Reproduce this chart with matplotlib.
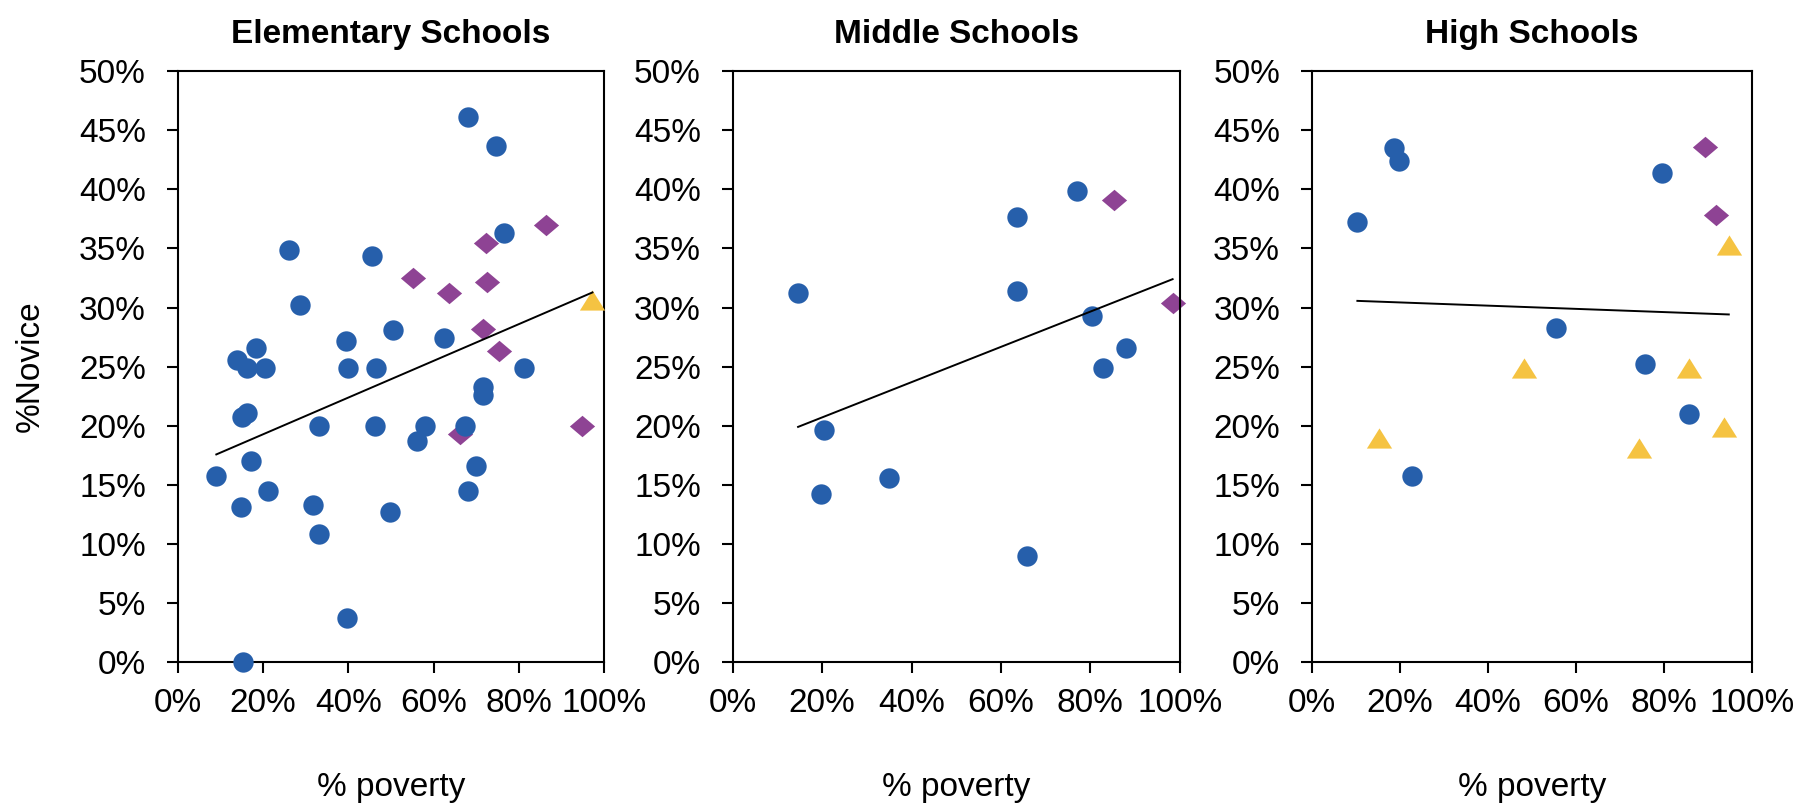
#!/usr/bin/env python
import matplotlib
matplotlib.use('Agg')
import matplotlib.pyplot as plt
import numpy as np
from matplotlib.path import Path
from matplotlib.ticker import PercentFormatter, MultipleLocator

plt.rcParams['font.family'] = ['Liberation Sans Narrow', 'Liberation Sans', 'DejaVu Sans']

# values in percent
elem_circ_x = [68.1, 74.6, 76.5, 26.0, 45.5, 28.7, 50.4, 39.4, 62.5, 18.4, 13.8, 16.3,
               20.5, 39.9, 46.4, 81.2, 71.5, 71.7, 16.3, 15.0, 33.1, 46.3, 58.1, 67.3,
               56.2, 17.2, 9.0, 69.9, 21.1, 14.8, 31.6, 68.2, 33.0, 49.8, 39.7, 15.3]
elem_circ_y = [46.1, 43.7, 36.3, 34.9, 34.4, 30.2, 28.1, 27.2, 27.4, 26.6, 25.6, 24.9,
               24.9, 24.9, 24.9, 24.9, 23.3, 22.6, 21.1, 20.7, 20.0, 20.0, 20.0, 20.0,
               18.7, 17.0, 15.7, 16.6, 14.5, 13.1, 13.3, 14.5, 10.8, 12.7, 3.7, 0.0]
elem_diam_x = [55.1, 63.6, 72.4, 72.5, 86.4, 71.7, 75.3, 66.1, 94.8]
elem_diam_y = [32.5, 31.2, 35.5, 32.2, 37.0, 28.2, 26.3, 19.3, 20.0]
elem_tri_x = [97.3]
elem_tri_y = [30.6]

mid_circ_x = [14.6, 20.5, 19.8, 34.9, 63.5, 63.5, 65.8, 77.0, 80.4, 87.9, 82.9]
mid_circ_y = [31.2, 19.6, 14.2, 15.6, 37.7, 31.4, 9.0, 39.9, 29.3, 26.6, 24.9]
mid_diam_x = [85.3, 98.4]
mid_diam_y = [39.1, 30.4]
mid_tri_x = []
mid_tri_y = []

high_circ_x = [10.3, 18.7, 19.7, 79.5, 55.5, 75.7, 85.6, 22.7]
high_circ_y = [37.2, 43.5, 42.4, 41.4, 28.3, 25.2, 21.0, 15.7]
high_diam_x = [89.3, 91.9]
high_diam_y = [43.6, 37.8]
high_tri_x = [94.7, 48.1, 85.6, 15.2, 74.4, 93.6]
high_tri_y = [35.3, 24.9, 24.9, 19.0, 18.1, 19.9]

titles = ['Elementary Schools', 'Middle Schools', 'High Schools']

panels = [
    (elem_circ_x, elem_circ_y, elem_diam_x, elem_diam_y, elem_tri_x, elem_tri_y),
    (mid_circ_x, mid_circ_y, mid_diam_x, mid_diam_y, mid_tri_x, mid_tri_y),
    (high_circ_x, high_circ_y, high_diam_x, high_diam_y, high_tri_x, high_tri_y),
]

blue = '#265FAB'
purple = '#8E4394'
yellow = '#F5C342'

diamond = Path([(-1, 0), (0, 0.85), (1, 0), (0, -0.85), (-1, 0)],
               [Path.MOVETO, Path.LINETO, Path.LINETO, Path.LINETO, Path.CLOSEPOLY])
triangle = Path([(0, 0.8), (-1, -0.8), (1, -0.8), (0, 0.8)],
                [Path.MOVETO, Path.LINETO, Path.LINETO, Path.CLOSEPOLY])

fig = plt.figure(figsize=[18.05, 8.07], dpi=100)

lefts = [0.0986, 0.406, 0.7269]
widths = [0.236, 0.2476, 0.2438]
bottom = 0.1797
height = 0.732
fs = 24

for i, (cx, cy, dx, dy, tx, ty) in enumerate(panels):
    ax = fig.add_axes([lefts[i], bottom, widths[i], height])
    ax.set_xlim(0, 100)
    ax.set_ylim(0, 50)
    ax.xaxis.set_major_locator(MultipleLocator(20))
    ax.yaxis.set_major_locator(MultipleLocator(5))
    ax.xaxis.set_major_formatter(PercentFormatter(decimals=0))
    ax.yaxis.set_major_formatter(PercentFormatter(decimals=0))
    ax.tick_params(axis='both', direction='out', length=8, width=1.5, labelsize=fs)
    ax.tick_params(axis='y', pad=15)
    ax.tick_params(axis='x', pad=11)
    for sp in ax.spines.values():
        sp.set_linewidth(1.5)

    ax.scatter(dx, dy, marker=diamond, s=330, color=purple, linewidths=0, zorder=2, clip_on=False)
    ax.scatter(cx, cy, marker='o', s=215, color=blue, linewidths=0, zorder=3, clip_on=False)
    if len(tx):
        ax.scatter(tx, ty, marker=triangle, s=330, color=yellow, linewidths=0, zorder=3, clip_on=False)

    # linear trend over all points of the panel
    allx = np.array(cx + dx + tx)
    ally = np.array(cy + dy + ty)
    k, b = np.polyfit(allx, ally, 1)
    xs = np.array([allx.min(), allx.max()])
    ax.plot(xs, k * xs + b, color='black', lw=1.4, zorder=4)

    ax.set_title(titles[i], fontsize=fs, fontweight='bold', pad=20)
    ax.set_xlabel('% poverty', fontsize=fs, labelpad=38)
    if i == 0:
        ax.set_ylabel('%Novice', fontsize=fs, labelpad=24)

plt.savefig('out.png', dpi=100)
